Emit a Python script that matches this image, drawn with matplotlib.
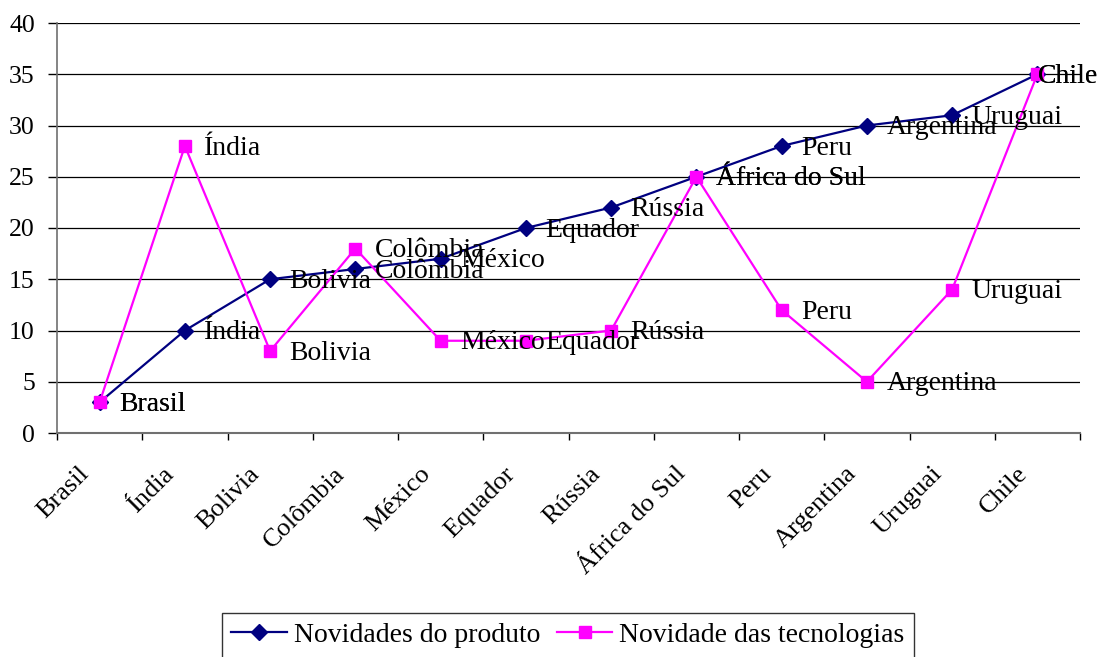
import matplotlib
matplotlib.use("Agg")
import matplotlib.pyplot as plt
import matplotlib.transforms as mtransforms
from matplotlib.ticker import FixedLocator, MultipleLocator

plt.rcParams["font.family"] = ["Liberation Serif", "DejaVu Serif"]

paises = ["Brasil", "Índia", "Bolivia", "Colômbia", "México", "Equador",
          "Rússia", "África do Sul", "Peru", "Argentina", "Uruguai", "Chile"]
novidades_produto = [3, 10, 15, 16, 17, 20, 22, 25, 28, 30, 31, 35]
novidade_tecnologias = [3, 28, 8, 18, 9, 9, 10, 25, 12, 5, 14, 35]

fig = plt.figure(figsize=(10.99, 6.57), dpi=100)
ax = fig.add_axes([57 / 1099, 1 - 433 / 657, (1080 - 57) / 1099, 410 / 657])

x = list(range(len(paises)))
ax.plot(x, novidades_produto, color="#000080", lw=1.6, marker="D", ms=8.5,
        label="Novidades do produto", zorder=3)
ax.plot(x, novidade_tecnologias, color="#FF00FF", lw=1.6, marker="s", ms=8.5,
        label="Novidade das tecnologias", zorder=3)

# data labels: country name to the right of each point
# (the last one is pulled in so it stays inside the figure)
for serie in (novidades_produto, novidade_tecnologias):
    for xi, (nome, v) in enumerate(zip(paises, serie)):
        dx = 0.5 if xi == len(paises) - 1 else 14
        ax.annotate(nome, (xi, v), xytext=(dx, -1.5), textcoords="offset points",
                    ha="left", va="center", fontsize=20, color="black", zorder=4)

ax.set_xlim(-0.5, 11.5)
ax.set_ylim(0, 40)
ax.yaxis.set_major_locator(MultipleLocator(5))
ax.grid(axis="y", color="black", lw=0.9)
ax.set_axisbelow(True)

# category names, rotated, ending a little left of and below each category
ax.set_xticks(x)
ax.set_xticklabels([])
cat_trans = ax.get_xaxis_transform() + mtransforms.ScaledTranslation(
    -15.5 / 72, -21.5 / 72, fig.dpi_scale_trans)
for xi, nome in zip(x, paises):
    ax.text(xi, 0, nome, transform=cat_trans, rotation=45, rotation_mode="anchor",
            ha="right", va="top", fontsize=19, clip_on=False)

ax.xaxis.set_minor_locator(FixedLocator([i - 0.5 for i in range(len(paises) + 1)]))
ax.tick_params(axis="x", which="major", length=0)
ax.tick_params(axis="x", which="minor", length=5, color="black", width=1)
ax.tick_params(axis="y", length=6.5, color="black", width=1, labelsize=18.5, pad=9.5)

for s in ("top", "right"):
    ax.spines[s].set_visible(False)
ax.spines["left"].set_color("#707070")
ax.spines["bottom"].set_color("#707070")
ax.spines["left"].set_linewidth(1.2)
ax.spines["bottom"].set_linewidth(1.5)

fig.legend(loc="upper center", bbox_to_anchor=(568 / 1099, 1 - 613 / 657), ncol=2,
           fontsize=20, frameon=True, fancybox=False, edgecolor="black",
           handlelength=2.0, columnspacing=0.6, handletextpad=0.25,
           borderpad=0.35, borderaxespad=0)

fig.savefig("out.png", dpi=100)
